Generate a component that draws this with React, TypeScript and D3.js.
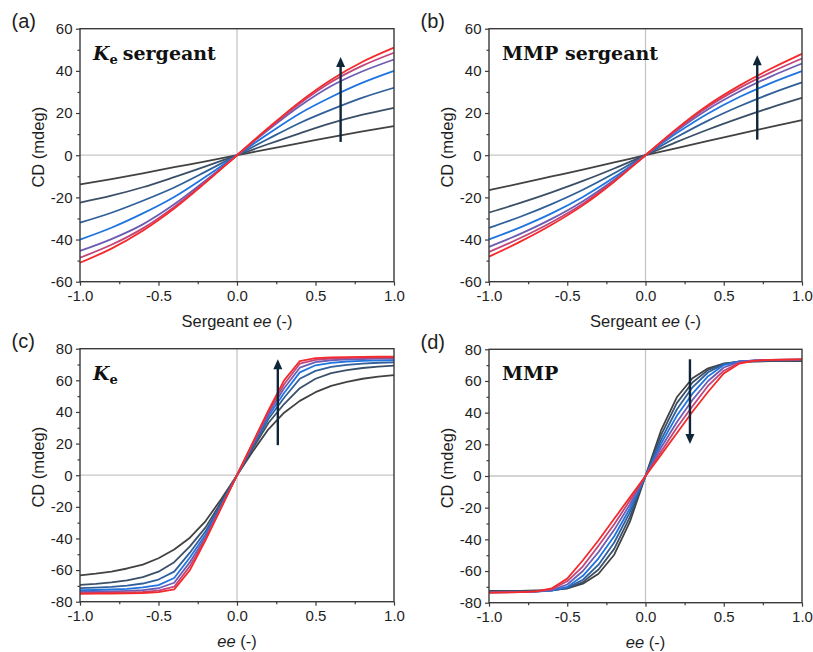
import { useEffect, useRef } from "react";
import * as d3 from "d3";

// sergeant ee grid (panels a, b) and ee grid (panels c, d)
const eeCoarse = [-1, -0.8, -0.6, -0.4, -0.2, 0, 0.2, 0.4, 0.6, 0.8, 1];
const eeFine = [-1, -0.9, -0.8, -0.7, -0.6, -0.5, -0.4, -0.3, -0.2, -0.1, 0, 0.1, 0.2, 0.3, 0.4, 0.5, 0.6, 0.7, 0.8, 0.9, 1];

// (a) Ke sergeant
const keSergeant = [
  [-13.8, -11.3, -8.6, -5.7, -2.9, 0, 2.9, 5.7, 8.6, 11.3, 13.8],
  [-22.5, -19.2, -15.2, -10.4, -5.3, 0, 5.3, 10.4, 15.2, 19.2, 22.5],
  [-32, -27.3, -21.6, -15.3, -7.8, 0, 7.8, 15.3, 21.6, 27.3, 32],
  [-40, -34.4, -27.6, -19.8, -10.2, 0, 10.2, 19.8, 27.6, 34.4, 40],
  [-45.4, -39.8, -32.8, -23.3, -12, 0, 12, 23.3, 32.8, 39.8, 45.4],
  [-48.6, -42.5, -34.7, -24.5, -12.6, 0, 12.6, 24.5, 34.7, 42.5, 48.6],
  [-51, -44.3, -35.8, -25.3, -13, 0, 13, 25.3, 35.8, 44.3, 51],
];

// (b) MMP sergeant
const mmpSergeant = [
  [-16.6, -13.4, -10.1, -6.8, -3.4, 0, 3.4, 6.8, 10.1, 13.4, 16.6],
  [-27.2, -22.6, -17.6, -12.2, -6.3, 0, 6.3, 12.2, 17.6, 22.6, 27.2],
  [-34.5, -29.2, -23.2, -16.4, -8.6, 0, 8.6, 16.4, 23.2, 29.2, 34.5],
  [-39.9, -34.2, -27.6, -19.8, -10.5, 0, 10.5, 19.8, 27.6, 34.2, 39.9],
  [-43.5, -37.3, -30.2, -21.8, -11.6, 0, 11.6, 21.8, 30.2, 37.3, 43.5],
  [-45.9, -39.3, -31.8, -23, -12.2, 0, 12.2, 23, 31.8, 39.3, 45.9],
  [-48.1, -41, -33, -23.8, -12.6, 0, 12.6, 23.8, 33, 41, 48.1],
];

// (c) Ke
const keCurves = [
  [-63.3, -62.3, -61, -59, -56.5, -52.5, -47, -39.5, -29, -15, 0, 15, 29, 39.5, 47, 52.5, 56.5, 59, 61, 62.3, 63.3],
  [-69.3, -68.7, -67.8, -66.5, -64.5, -61, -55, -45, -33, -16.8, 0, 16.8, 33, 45, 55, 61, 64.5, 66.5, 67.8, 68.7, 69.3],
  [-71.4, -71.1, -70.6, -69.8, -68.5, -66, -61, -49, -35.5, -18, 0, 18, 35.5, 49, 61, 66, 68.5, 69.8, 70.6, 71.1, 71.4],
  [-72.7, -72.6, -72.3, -71.9, -71, -69.5, -65, -52, -37.5, -19, 0, 19, 37.5, 52, 65, 69.5, 71, 71.9, 72.3, 72.6, 72.7],
  [-73.8, -73.7, -73.5, -73.2, -72.7, -71.5, -68, -55, -39, -19.7, 0, 19.7, 39, 55, 68, 71.5, 72.7, 73.2, 73.5, 73.7, 73.8],
  [-74.4, -74.4, -74.3, -74.1, -73.8, -73, -70.5, -57.5, -40.2, -20.2, 0, 20.2, 40.2, 57.5, 70.5, 73, 73.8, 74.1, 74.3, 74.4, 74.4],
  [-75, -74.9, -74.8, -74.7, -74.5, -74, -72.2, -60, -41, -20.5, 0, 20.5, 41, 60, 72.2, 74, 74.5, 74.7, 74.8, 74.9, 75],
];

// (d) MMP
const mmpCurves = [
  [-72.5, -72.5, -72.5, -72.3, -72, -71, -68, -61.7, -49.7, -29, 0, 29, 49.7, 61.7, 68, 71, 72, 72.3, 72.5, 72.5, 72.5],
  [-73, -72.9, -72.8, -72.6, -72.2, -71, -67, -59, -46, -26, 0, 26, 46, 59, 67, 71, 72.2, 72.6, 72.8, 72.9, 73],
  [-73.2, -73.1, -73, -72.8, -72.3, -70.5, -65.5, -56, -42, -23, 0, 23, 42, 56, 65.5, 70.5, 72.3, 72.8, 73, 73.1, 73.2],
  [-73.4, -73.3, -73.2, -73, -72.3, -70, -63, -52, -38, -20.5, 0, 20.5, 38, 52, 63, 70, 72.3, 73, 73.2, 73.3, 73.4],
  [-73.5, -73.4, -73.3, -73, -72, -68.5, -60, -48, -34, -18, 0, 18, 34, 48, 60, 68.5, 72, 73, 73.3, 73.4, 73.5],
  [-73.6, -73.5, -73.3, -72.9, -71.5, -66.5, -57, -44, -30.5, -15.5, 0, 15.5, 30.5, 44, 57, 66.5, 71.5, 72.9, 73.3, 73.5, 73.6],
  [-73.7, -73.5, -73.3, -72.8, -71, -64.8, -53.2, -40.6, -27, -13.5, 0, 13.5, 27, 40.6, 53.2, 64.8, 71, 72.8, 73.3, 73.5, 73.7],
];

const seriesColors = ["#424242", "#3b5068", "#30609a", "#1f74e0", "#6c5cb2", "#c0457a", "#f52a2a"];

const xTicks = [-1, -0.5, 0, 0.5, 1];
const xMinor = [-0.75, -0.25, 0.25, 0.75];
const yTicks60 = [-60, -40, -20, 0, 20, 40, 60];
const yMinor60 = [-50, -30, -10, 10, 30, 50];
const yTicks80 = [-80, -60, -40, -20, 0, 20, 40, 60, 80];
const yMinor80 = [-70, -50, -30, -10, 10, 30, 50, 70];

// arrows: [ee, from, to]
const arrowA = [0.66, 6.3, 46.6];
const arrowB = [0.714, 7.4, 47.4];
const arrowC = [0.26, 19, 73.3];
const arrowD = [0.284, 73.7, 20.2];

const panels = [
  { tag: "(a)", name: "Ke sergeant", left: 80, right: 394, top: 28.7, bottom: 281.7, yMax: 60, yTicks: yTicks60, yMinor: yMinor60, ee: eeCoarse, series: keSergeant, smooth: true, sergeant: true, arrow: arrowA },
  { tag: "(b)", name: "MMP sergeant", left: 489, right: 802, top: 28.7, bottom: 281.7, yMax: 60, yTicks: yTicks60, yMinor: yMinor60, ee: eeCoarse, series: mmpSergeant, smooth: true, sergeant: true, arrow: arrowB },
  { tag: "(c)", name: "Ke", left: 80, right: 394, top: 348.7, bottom: 601.7, yMax: 80, yTicks: yTicks80, yMinor: yMinor80, ee: eeFine, series: keCurves, smooth: false, sergeant: false, arrow: arrowC },
  { tag: "(d)", name: "MMP", left: 489, right: 802, top: 349.3, bottom: 602.7, yMax: 80, yTicks: yTicks80, yMinor: yMinor80, ee: eeFine, series: mmpCurves, smooth: false, sergeant: false, arrow: arrowD },
];

const sans = "'Liberation Sans', Arial, sans-serif";
const serif = "'DejaVu Serif', serif";
const ink = "#1e1e1e";
const frame = "#3a3a3a";

export default function App() {
  const svgRef = useRef<SVGSVGElement>(null);

  useEffect(() => {
    const svg = d3.select(svgRef.current);
    svg.selectAll("*").remove();

    panels.forEach((p) => {
      const x = d3.scaleLinear().domain([-1, 1]).range([p.left, p.right]);
      const y = d3.scaleLinear().domain([-p.yMax, p.yMax]).range([p.bottom, p.top]);
      const g = svg.append("g");

      // zero lines
      g.append("line")
        .attr("x1", x(0)).attr("x2", x(0)).attr("y1", p.top).attr("y2", p.bottom)
        .attr("stroke", "#c6c6c6").attr("stroke-width", 1.3);
      g.append("line")
        .attr("x1", p.left).attr("x2", p.right).attr("y1", y(0)).attr("y2", y(0))
        .attr("stroke", "#c6c6c6").attr("stroke-width", 1.3);

      // curves
      const gen = d3.line<number>()
        .x((_, i) => x(p.ee[i]))
        .y((d) => y(d))
        .curve(p.smooth ? d3.curveMonotoneX : d3.curveLinear);
      g.selectAll(".series")
        .data(p.series)
        .enter()
        .append("path")
        .attr("fill", "none")
        .attr("stroke", (_, i) => seriesColors[i])
        .attr("stroke-width", 1.8)
        .attr("stroke-linejoin", "round")
        .attr("d", (d) => gen(d));

      // frame
      g.append("rect")
        .attr("x", p.left).attr("y", p.top)
        .attr("width", p.right - p.left).attr("height", p.bottom - p.top)
        .attr("fill", "none").attr("stroke", frame).attr("stroke-width", 1.4);

      // axes
      const style = (sel: any) => {
        sel.select(".domain").remove();
        sel.selectAll("line").attr("stroke", frame).attr("stroke-width", 1.2);
        sel.selectAll("text").attr("font-size", 15).attr("font-family", sans).attr("fill", ink);
      };
      const xa = g.append("g").attr("transform", `translate(0,${p.bottom})`)
        .call(d3.axisBottom(x).tickValues(xTicks).tickSize(4).tickPadding(4.5).tickFormat((d: any) => d.toFixed(1)));
      style(xa);
      const xm = g.append("g").attr("transform", `translate(0,${p.bottom})`)
        .call(d3.axisBottom(x).tickValues(xMinor).tickSize(2.5).tickFormat(() => ""));
      style(xm);
      const ya = g.append("g").attr("transform", `translate(${p.left},0)`)
        .call(d3.axisLeft(y).tickValues(p.yTicks).tickSize(4).tickPadding(3.5).tickFormat((d: any) => String(d)));
      style(ya);
      const ym = g.append("g").attr("transform", `translate(${p.left},0)`)
        .call(d3.axisLeft(y).tickValues(p.yMinor).tickSize(2.5).tickFormat(() => ""));
      style(ym);

      // axis titles
      const yt = g.append("text")
        .attr("transform", `translate(${p.left - 36},${(p.top + p.bottom) / 2 - 8}) rotate(-90)`)
        .attr("text-anchor", "middle")
        .attr("font-family", sans).attr("font-size", 16.5).attr("fill", ink)
        .text("CD (mdeg)");
      yt.attr("dy", 0);

      const xt = g.append("text")
        .attr("x", x(0)).attr("y", p.bottom + (p.sergeant ? 45.5 : 45.3))
        .attr("text-anchor", "middle")
        .attr("font-family", sans).attr("font-size", 16.5).attr("fill", ink);
      if (p.sergeant) xt.append("tspan").text("Sergeant ");
      xt.append("tspan").attr("font-style", "italic").text("ee");
      xt.append("tspan").text(" (-)");

      // panel tag
      g.append("text")
        .attr("x", p.left - 68.5).attr("y", p.top - 0.7)
        .attr("font-family", sans).attr("font-size", 20).attr("fill", ink)
        .text(p.tag);

      // inner label
      const lab = g.append("text")
        .attr("x", p.left + 13).attr("y", p.top + 31)
        .attr("font-family", serif).attr("font-weight", "bold").attr("font-size", 19).attr("fill", "#111");
      if (p.name.startsWith("Ke")) {
        lab.append("tspan").attr("font-style", "italic").text("K");
        lab.append("tspan").attr("font-size", 13).attr("dy", 4).text("e");
        if (p.name.includes("sergeant")) {
          lab.append("tspan").attr("dy", -4).attr("dx", 5).text("sergeant");
        }
      } else {
        lab.text(p.name);
      }

      // arrow
      const [ae, a0, a1] = p.arrow;
      const ax = x(ae);
      const y0 = y(a0);
      const y1 = y(a1);
      const dir = y1 < y0 ? 1 : -1;
      const head = 9;
      g.append("line")
        .attr("x1", ax).attr("x2", ax).attr("y1", y0).attr("y2", y1 + dir * head)
        .attr("stroke", "#0f2538").attr("stroke-width", 2.4);
      g.append("path")
        .attr("d", `M${ax},${y1} L${ax - 4.5},${y1 + dir * (head + 1)} L${ax + 4.5},${y1 + dir * (head + 1)} Z`)
        .attr("fill", "#0f2538");
    });
  }, []);

  return (
    <div style={{ position: "absolute", left: 0, top: 0 }}>
      <svg ref={svgRef} width={813} height={652} viewBox="0 0 813 652" style={{ display: "block", background: "#fff" }} />
    </div>
  );
}
